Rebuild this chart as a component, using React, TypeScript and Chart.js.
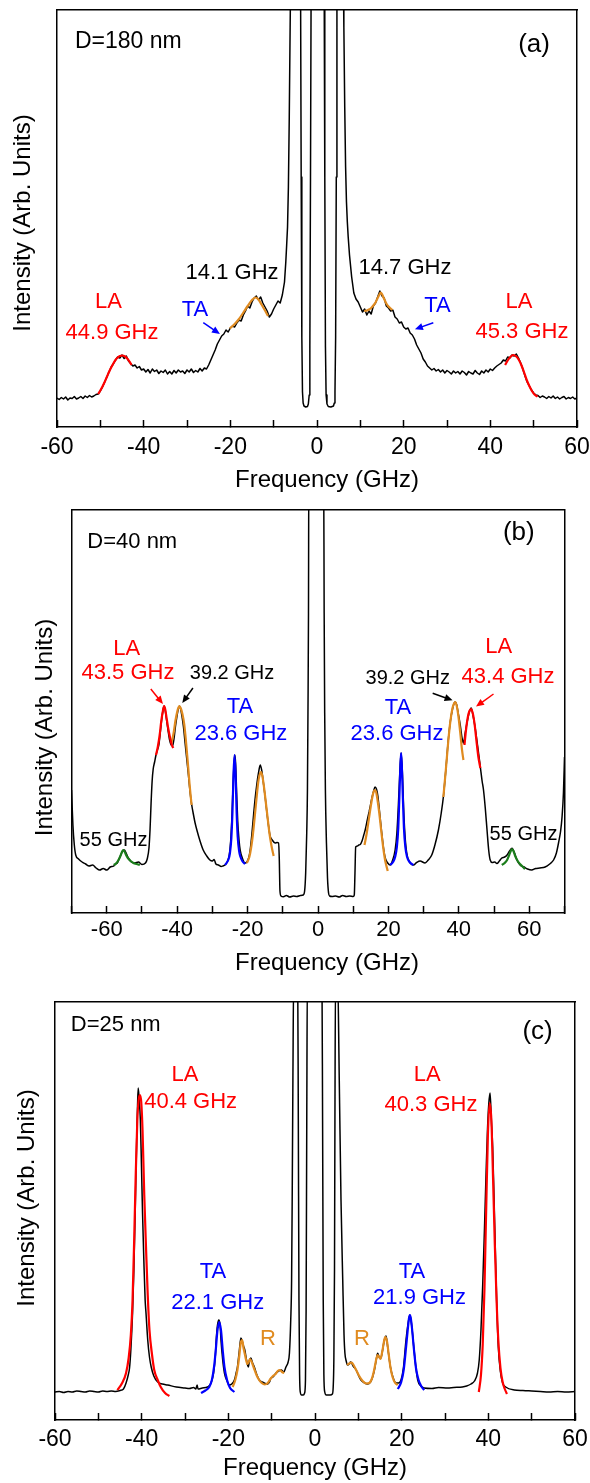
import React, { useEffect, useRef } from 'react';
import { Chart, registerables } from 'chart.js';

Chart.register(...registerables);

const FONT = '"Liberation Sans", Arial, Helvetica, sans-serif';
const BLACK = '#000000';
const RED = '#ff0000';
const BLUE = '#0000ff';
const ORANGE = '#e08b20';
const GREEN = '#1b7d1b';

type Pt = [number, number];

// ---------------- Panel (a): D = 180 nm ----------------
const ticksA = [-60, -40, -20, 0, 20, 40, 60];
const spectrumA: Pt[] = [
  [-60, 29], [-59.5, 27.5], [-59, 29.5], [-58.5, 28], [-58, 30], [-57.5, 27], [-57, 29], [-56.5, 28.5], [-56, 30.5], [-55.5, 28],
  [-55, 29], [-54.5, 30.5], [-54, 28.5], [-53.5, 31], [-53, 29.5], [-52.5, 31.5], [-52, 30], [-51.5, 31], [-51, 32.5], [-50.5, 33],
  [-50, 36], [-49.5, 40], [-49, 45], [-48.5, 50], [-48, 55], [-47.5, 60], [-47, 63], [-46.5, 67], [-46, 70], [-45.5, 69],
  [-45, 72], [-44.5, 68.5], [-44, 71], [-43.5, 66], [-43, 63.5], [-42.5, 61], [-42, 62], [-41.5, 59], [-41, 60.5], [-40.5, 57],
  [-40, 58], [-39.5, 55], [-39, 57.5], [-38.5, 54], [-38, 58], [-37.5, 55.5], [-37, 57], [-36.5, 53.5], [-36, 56], [-35.5, 54.5],
  [-35, 57], [-34.5, 53], [-34, 55.5], [-33.5, 53], [-33, 56.5], [-32.5, 54], [-32, 57], [-31.5, 55], [-31, 56], [-30.5, 53.5],
  [-30, 57], [-29.5, 55], [-29, 58], [-28.5, 54.5], [-28, 56.5], [-27.5, 55], [-27, 58.5], [-26.5, 56], [-26, 59], [-25.5, 58],
  [-25, 62], [-24.5, 67], [-24, 72], [-23.5, 77], [-23, 83], [-22.5, 87], [-22, 91], [-21.5, 93], [-21, 97], [-20.5, 95],
  [-20, 99], [-19.5, 101], [-19, 100], [-18.5, 104], [-18, 107], [-17.5, 106], [-17, 112], [-16.5, 116], [-16, 121], [-15.5, 119],
  [-15, 125], [-14.5, 129], [-14, 131], [-13.5, 127], [-13, 130], [-12.5, 124], [-12, 120], [-11.5, 116], [-11, 110], [-10.5, 113],
  [-10, 118], [-9.5, 122], [-9, 126], [-8.5, 124], [-8, 132], [-7.5, 145], [-7.2, 165], [-7, 182], [-6.8, 200], [-6.6, 240],
  [-6.4, 310], [-6.2, 400], [-6, 480], [-5.5, 560], [-4, 560], [-3.8, 450], [-3.65, 250], [-3.5, 90], [-3.35, 35], [-3.2, 24],
  [-3, 21], [-2.6, 20], [-2.2, 20.5], [-2, 23], [-1.8, 32], [-1.65, 80], [-1.5, 250], [-1.35, 450], [-1.2, 560], [1.5, 560],
  [1.65, 450], [1.8, 250], [1.95, 80], [2.1, 32], [2.3, 23], [2.6, 20.5], [3.2, 20], [3.8, 21], [4, 24], [4.15, 35],
  [4.3, 90], [4.45, 250], [4.6, 450], [4.8, 560], [5.8, 560], [6, 480], [6.2, 400], [6.4, 320], [6.6, 260], [6.8, 225],
  [7, 205], [7.2, 190], [7.5, 172], [8, 150], [8.5, 134], [9, 128], [9.5, 125], [10, 120], [10.5, 115], [11, 118],
  [11.5, 112], [12, 116], [12.5, 113], [13, 121], [13.5, 124], [14, 130], [14.5, 136], [15, 131], [15.5, 129], [16, 121],
  [16.5, 119], [17, 116], [17.5, 117], [18, 110], [18.5, 108], [19, 104], [19.5, 105], [20, 100], [20.5, 98], [21, 99],
  [21.5, 94], [22, 92], [22.5, 88], [23, 82], [23.5, 78], [24, 74], [24.5, 68], [25, 65], [25.5, 61], [26, 59],
  [26.5, 57], [27, 58.5], [27.5, 56], [28, 57.5], [28.5, 55], [29, 57], [29.5, 54], [30, 56.5], [30.5, 55], [31, 53],
  [31.5, 56], [32, 54], [32.5, 55.5], [33, 53], [33.5, 56], [34, 54.5], [34.5, 52], [35, 55.5], [35.5, 54], [36, 53],
  [36.5, 56.5], [37, 54], [37.5, 52.5], [38, 56], [38.5, 54], [39, 57], [39.5, 55], [40, 58], [40.5, 56.5], [41, 59],
  [41.5, 61], [42, 62.5], [42.5, 64], [43, 67], [43.5, 66], [44, 70], [44.5, 69], [45, 72], [45.5, 71], [46, 73],
  [46.5, 69], [47, 64], [47.5, 58], [48, 51], [48.5, 45], [49, 41], [49.5, 37], [50, 34], [50.5, 32], [51, 31.5],
  [51.5, 29.5], [52, 31], [52.5, 30], [53, 28.5], [53.5, 30.5], [54, 29], [54.5, 31], [55, 28.5], [55.5, 30], [56, 28],
  [56.5, 29.5], [57, 30.5], [57.5, 28], [58, 29.5], [58.5, 28.5], [59, 30], [59.5, 28], [60, 29],
];
const laLeftA: Pt[] = [[-50.5, 33], [-50, 36.5], [-49.5, 40.5], [-49, 45], [-48.5, 50], [-48, 55], [-47.5, 59.5], [-47, 63.5], [-46.5, 67], [-46, 69.5], [-45.5, 71], [-44.9, 71.5], [-44.3, 70.5], [-43.7, 68], [-43.2, 65], [-42.8, 62]];
const taLeftA: Pt[] = [[-20.1, 98.5], [-19, 103], [-18, 108], [-17, 114.5], [-16, 121], [-15, 127], [-14.2, 129.5], [-13.5, 127.5], [-12.8, 122.5], [-12, 116.5], [-11.3, 111]];
const taRightA: Pt[] = [[10.9, 116], [11.5, 116.5], [12, 117.5], [12.5, 119], [13, 121.5], [13.5, 124.5], [14, 129], [14.4, 132.5], [14.7, 134.5], [15, 133], [15.5, 128], [16, 123.5], [16.5, 120.5], [17, 118.5], [17.4, 117]];
const laRightA: Pt[] = [[43.4, 62], [44, 66.5], [44.6, 70], [45.3, 72], [46, 70.5], [46.6, 67], [47.2, 61.5], [47.8, 54.5], [48.4, 47], [49, 41], [49.6, 36], [50.2, 32.5], [50.9, 30.3]];

// ---------------- Panel (b): D = 40 nm ----------------
const ticksB = [-60, -40, -20, 0, 20, 40, 60];
const spectrumB: Pt[] = [
  [-70, 123], [-69.6, 88], [-69.2, 68], [-68.8, 58], [-68, 54], [-67, 51], [-66, 49], [-65, 47], [-64, 48], [-63, 45],
  [-62, 43], [-61, 44.5], [-60, 43], [-59, 46], [-58, 47], [-57.5, 49], [-57, 50], [-56.5, 54], [-56, 58], [-55.5, 62],
  [-55, 63], [-54.5, 60], [-54, 56], [-53.5, 53], [-53, 51], [-52, 50], [-51, 51], [-50, 48.5], [-49, 50], [-48.5, 54],
  [-48, 65], [-47.7, 83], [-47.4, 110], [-47.1, 132], [-46.8, 144], [-46.4, 151], [-46, 158], [-45.6, 163], [-45.2, 168], [-44.8, 180],
  [-44.4, 193], [-44, 203], [-43.7, 207], [-43.4, 203], [-43, 193], [-42.6, 183], [-42.2, 174], [-41.7, 168], [-41.3, 167], [-40.9, 174],
  [-40.5, 186], [-40, 198], [-39.6, 205], [-39.3, 207], [-39, 204], [-38.6, 196], [-38.2, 186], [-37.8, 172], [-37.3, 155], [-36.8, 138],
  [-36.3, 120], [-35.9, 109], [-35.4, 99], [-34.9, 90], [-34.4, 83], [-33.5, 72], [-32.6, 63], [-31.6, 57], [-30.7, 53], [-30, 52],
  [-29.5, 53.5], [-29, 49], [-28.3, 48], [-27.5, 46.5], [-27, 47], [-26.4, 48], [-25.8, 51], [-25.2, 58], [-24.8, 72], [-24.4, 100],
  [-24.1, 130], [-23.8, 152], [-23.6, 158], [-23.4, 150], [-23.1, 120], [-22.8, 92], [-22.4, 72], [-22.1, 63], [-21.4, 54], [-20.7, 50],
  [-20.2, 51], [-19.7, 55], [-19.3, 62], [-18.8, 78], [-18.3, 98], [-17.9, 113], [-17.4, 128], [-16.9, 140], [-16.4, 148], [-16, 143],
  [-15.5, 130], [-15, 116], [-14.5, 100], [-14, 86], [-13.6, 77], [-13, 73], [-12.2, 70], [-11.6, 70.5], [-11.2, 70], [-11, 55],
  [-10.8, 22], [-10.5, 17], [-9.8, 16.3], [-9, 17.5], [-8, 16], [-7, 17], [-6, 16.5], [-5, 17.5], [-4.2, 18], [-3.8, 22],
  [-3.5, 40], [-3.2, 80], [-3, 123], [-2.85, 200], [-2.7, 300], [-2.6, 450], [1.6, 450], [1.75, 300], [1.9, 200], [2.1, 123],
  [2.4, 70], [2.7, 35], [3, 20], [3.3, 17], [4, 16.5], [5, 17], [6, 16], [7, 17.5], [8, 16.5], [9, 17],
  [10, 16.5], [10.3, 18], [10.5, 40], [10.7, 66], [11.2, 67], [11.6, 68], [12, 68.5], [12.5, 72], [13, 78], [13.4, 83],
  [14, 93], [14.5, 101], [14.8, 106], [15.3, 115], [15.8, 122], [16.2, 126], [16.6, 124], [17, 117], [17.4, 104], [17.8, 90],
  [18.1, 80], [18.6, 65], [19.1, 55], [19.8, 50], [20.5, 48], [21.2, 53], [21.9, 63], [22.4, 80], [22.8, 106], [23.2, 138],
  [23.6, 160], [24, 138], [24.3, 106], [24.7, 78], [25.2, 60], [26, 51], [27.1, 48], [28, 50.5], [29, 52], [30.4, 50],
  [31.3, 53], [32.3, 58], [33.2, 68], [34.2, 83], [35, 100], [35.6, 116], [36.3, 143], [37, 173], [37.6, 192], [38.2, 204],
  [38.7, 210], [39, 211], [39.4, 208], [39.8, 200], [40.4, 188], [40.9, 175], [41.3, 170], [41.8, 180], [42.3, 190], [42.9, 200],
  [43.5, 205], [44, 198], [44.6, 186], [45.3, 168], [46.1, 146], [46.6, 132], [47, 123], [47.5, 105], [48, 83], [48.5, 62],
  [48.9, 53], [49.5, 50.5], [50.2, 51], [50.8, 49.5], [51.5, 52], [52.2, 55], [53, 56], [53.7, 58], [54.4, 62], [55.1, 64.7],
  [55.8, 60], [56.5, 53], [57.4, 48], [58.5, 46], [59.5, 44], [60.7, 43], [61.8, 44.5], [63, 45], [64.5, 46], [65.8, 49],
  [66.9, 53], [67.7, 60], [68.3, 70], [68.9, 82], [69.3, 96], [69.7, 120], [70, 156],
];
const p55LeftB: Pt[] = [[-58, 48], [-57.2, 50], [-56.5, 54], [-56, 58], [-55.6, 61.5], [-55.3, 63], [-55, 62], [-54.5, 58], [-54, 55], [-53.2, 52], [-52.4, 50], [-51.5, 49], [-50.6, 48]];
const laLeftB: Pt[] = [[-46, 158], [-45.5, 166], [-45, 177], [-44.5, 192], [-44, 203], [-43.7, 207], [-43.4, 204], [-43, 195], [-42.5, 184], [-42, 175], [-41.5, 168], [-41.1, 165]];
const p39LeftB: Pt[] = [[-41.6, 170], [-41, 180], [-40.5, 192], [-40, 201], [-39.7, 205], [-39.4, 207], [-39, 205], [-38.5, 199], [-38, 189], [-37.5, 172], [-37, 152], [-36.5, 130], [-35.9, 108]];
const taLeftB: Pt[] = [[-26.4, 48], [-25.5, 53], [-25, 60], [-24.6, 75], [-24.3, 100], [-24, 138], [-23.7, 158], [-23.4, 138], [-23.1, 100], [-22.8, 76], [-22.4, 62], [-22, 56], [-21.5, 52], [-20.7, 49]];
const p16LeftB: Pt[] = [[-20.2, 50], [-19.5, 56], [-19, 65], [-18.5, 78], [-18, 95], [-17.5, 113], [-17, 130], [-16.6, 138], [-16.2, 141], [-15.8, 137], [-15.3, 125], [-14.8, 110], [-14.3, 95], [-13.8, 80], [-13.2, 67], [-12.6, 57]];
const p16RightB: Pt[] = [[13.2, 68], [13.8, 79], [14.4, 93], [15, 107], [15.5, 117], [15.9, 122], [16.2, 123], [16.5, 121], [16.9, 113], [17.4, 100], [17.9, 84], [18.5, 66], [19.1, 52], [19.8, 42]];
const taRightB: Pt[] = [[20.5, 48], [21.3, 51], [21.9, 56], [22.4, 66], [22.8, 85], [23.1, 115], [23.4, 148], [23.6, 160], [23.8, 148], [24.1, 115], [24.4, 85], [24.8, 66], [25.3, 56], [26, 51], [27.1, 48]];
const p39RightB: Pt[] = [[35.6, 116], [36.3, 143], [37, 172], [37.6, 192], [38.2, 205], [38.7, 210], [39, 211], [39.4, 207], [39.9, 196], [40.4, 180], [40.9, 163], [41.3, 153]];
const laRightB: Pt[] = [[41.6, 168], [42, 182], [42.5, 195], [43, 202], [43.5, 204], [44, 199], [44.5, 188], [45, 172], [45.5, 157], [46.1, 145]];
const p55RightB: Pt[] = [[52.2, 48], [53, 50], [53.7, 53], [54.3, 58], [54.8, 62.5], [55.1, 64], [55.5, 62], [56, 57], [56.7, 52], [57.5, 48.5], [58.2, 46], [58.8, 44]];

// ---------------- Panel (c): D = 25 nm ----------------
const ticksC = [-60, -40, -20, 0, 20, 40, 60];
const spectrumC: Pt[] = [
  [-60, 28], [-59, 28.5], [-58, 27.5], [-57, 28.5], [-56, 28], [-55, 29], [-54, 28.5], [-53, 28], [-52, 29], [-51, 28.5],
  [-50, 28], [-49, 29], [-48, 28.5], [-47, 29], [-46, 28.5], [-45, 29.5], [-44.2, 31], [-43.6, 37], [-43.1, 45], [-42.8, 52],
  [-42.5, 70], [-42.1, 107], [-41.8, 150], [-41.5, 207], [-41.3, 250], [-41.1, 290], [-40.95, 315], [-40.8, 332], [-40.6, 322], [-40.3, 300],
  [-40.05, 255], [-39.8, 207], [-39.5, 160], [-39.2, 120], [-39, 107], [-38.6, 80], [-38.2, 63], [-37.8, 53], [-37.2, 44], [-36.3, 38],
  [-35.2, 36], [-34, 35], [-32, 33], [-30, 32], [-29, 31.5], [-28, 32.5], [-27.5, 31], [-27.2, 35], [-27, 31], [-26, 32],
  [-24.8, 33], [-24, 37], [-23.4, 47], [-23, 64], [-22.8, 80], [-22.5, 95], [-22.2, 100], [-21.9, 95], [-21.7, 80], [-21.3, 60],
  [-20.9, 47], [-20.3, 39], [-19.8, 35], [-19.2, 36], [-18.6, 40], [-18.2, 47], [-17.9, 53], [-17.5, 68], [-17.1, 82], [-16.8, 79],
  [-16.5, 74], [-16.2, 70], [-15.8, 60], [-15.4, 53], [-15.1, 60], [-14.8, 62], [-14.4, 57], [-14, 53], [-13.4, 45], [-12.85, 40],
  [-12.2, 38], [-11.5, 36.5], [-10.9, 36], [-10.5, 38], [-10.2, 41.7], [-9.7, 43], [-9, 47], [-8.4, 49], [-7.8, 50], [-7.2, 48],
  [-6.7, 53], [-6.2, 58], [-5.9, 67], [-5.6, 100], [-5.4, 140], [-5.25, 230], [-5.1, 340], [-4.9, 450], [-4, 450], [-3.85, 300],
  [-3.7, 120], [-3.55, 45], [-3.4, 28], [-3.1, 25], [-2.7, 25], [-2.4, 27], [-2.2, 40], [-2.05, 110], [-1.9, 300], [-1.75, 450],
  [1.6, 450], [1.75, 300], [1.9, 120], [2.05, 45], [2.25, 28], [2.6, 25], [3.5, 25], [4, 26], [4.2, 33], [4.35, 60],
  [4.5, 150], [4.6, 300], [4.75, 450], [5.2, 450], [5.6, 340], [6, 220], [6.4, 140], [6.7, 85], [6.9, 67], [7.2, 59],
  [7.5, 55], [7.9, 56], [8.2, 58], [8.45, 57], [8.8, 54], [9.5, 50], [10, 45], [10.6, 40], [11.3, 37.5], [12.15, 36],
  [12.8, 38], [13.3, 43], [13.8, 52], [14.2, 62], [14.45, 66.7], [14.8, 63], [15.2, 62], [15.6, 70], [16, 80], [16.4, 84],
  [16.8, 72], [17.1, 62], [17.4, 53], [17.9, 44], [18.7, 37], [19.3, 37], [19.85, 40], [20.4, 52], [21, 80], [21.5, 97],
  [21.9, 105], [22.3, 95], [22.8, 73], [23.3, 52], [23.7, 40], [24.4, 34], [25.2, 32], [27, 31.5], [28.5, 32.5], [30.6, 32],
  [32, 32.5], [34, 33], [35, 34], [36, 36], [36.8, 39], [37.5, 47], [37.9, 60], [38.3, 90], [38.7, 135], [39.1, 190],
  [39.5, 250], [39.8, 290], [40.1, 316], [40.4, 327], [40.7, 300], [41, 273], [41.3, 225], [41.6, 173], [41.95, 115], [42.3, 73],
  [42.8, 48], [43.3, 37], [44, 33], [46, 30], [48, 29.5], [50, 29], [52, 28.5], [54, 28], [56, 28.5], [58, 28], [60, 28.5],
];
const laLeftC: Pt[] = [[-45.6, 30], [-44.5, 37], [-43.6, 47], [-43, 62], [-42.5, 85], [-42.1, 120], [-41.7, 185], [-41.4, 240], [-41, 300], [-40.7, 320], [-40.4, 325], [-40.1, 318], [-39.8, 290], [-39.4, 225], [-39, 173], [-38.6, 125], [-38.2, 90], [-37.6, 65], [-37.1, 50], [-36.3, 40], [-35.6, 33], [-34.6, 27], [-33.6, 24]];
const taLeftC: Pt[] = [[-26.3, 27], [-25.3, 29.5], [-24.4, 33], [-23.8, 40], [-23.3, 53], [-22.9, 70], [-22.5, 90], [-22.1, 98], [-21.7, 90], [-21.3, 70], [-20.9, 53], [-20.3, 40], [-19.6, 32], [-18.6, 28]];
const rLeftC: Pt[] = [[-19, 33], [-18.4, 40], [-17.9, 50], [-17.5, 63], [-17.1, 78], [-16.8, 80], [-16.5, 72], [-16.2, 66], [-15.9, 60], [-15.6, 56], [-15.3, 58], [-15, 61], [-14.6, 58], [-14.1, 52], [-13.5, 45], [-12.9, 40], [-12.3, 37], [-11.6, 35.5], [-10.9, 37], [-10.3, 41], [-9.7, 44], [-9.1, 46], [-8.6, 49], [-8.1, 50], [-7.6, 48], [-7.1, 47]];
const rRightC: Pt[] = [[7.4, 55], [7.9, 56.5], [8.45, 57.5], [8.9, 55], [9.5, 50], [10.2, 44], [11, 39], [11.8, 36.5], [12.5, 37], [13.1, 41], [13.6, 49], [14.1, 60], [14.45, 65], [14.8, 63], [15.1, 61], [15.5, 68], [15.9, 78], [16.2, 83], [16.6, 79], [17, 66], [17.4, 53], [17.9, 43], [18.5, 37], [19.1, 35]];
const taRightC: Pt[] = [[19.1, 31], [19.9, 38], [20.5, 51], [21, 72], [21.4, 90], [21.7, 102], [21.9, 105], [22.1, 102], [22.4, 91], [22.8, 72], [23.3, 52], [23.9, 40], [24.5, 34], [25.2, 30]];
const laRightC: Pt[] = [[37.8, 28], [38.3, 45], [38.7, 75], [39.1, 130], [39.5, 210], [39.9, 285], [40.3, 317], [40.7, 300], [41.1, 240], [41.5, 175], [41.9, 120], [42.3, 80], [42.8, 52], [43.3, 38], [43.8, 31], [44.3, 26]];

// ---------------- annotation and layout specs ----------------
type Label = { text: string; x: number; y: number; color: string; size: number; align?: CanvasTextAlign };
type Arrow = { x1: number; y1: number; x2: number; y2: number; color: string };
type Series = { data: Pt[]; color: string; width: number; smooth: boolean; order: number };
type PanelSpec = {
  key: string; top: number; height: number; xMin: number; xMax: number; yMax: number;
  tickLabels: number[]; tickFont: number; tickPad: number;
  padding: { top: number; left: number; right: number; bottom: number };
  xTitle: { x: number; y: number }; yTitle: { x: number; y: number };
  series: Series[]; labels: Label[]; arrows: Arrow[];
};

const fit = (data: Pt[], color: string): Series => ({ data, color, width: 2.2, smooth: true, order: 0 });

const panels: PanelSpec[] = [
  {
    key: 'a', top: 0, height: 500, xMin: -60, xMax: 60, yMax: 417,
    tickLabels: ticksA, tickFont: 23, tickPad: 14.2,
    padding: { top: 10, left: 57, right: 53, bottom: 24 },
    xTitle: { x: 327, y: 480 }, yTitle: { x: 23, y: 223 },
    series: [
      fit(laLeftA, RED), fit(taLeftA, ORANGE), fit(taRightA, ORANGE), fit(laRightA, RED),
      { data: spectrumA, color: BLACK, width: 1.5, smooth: false, order: 5 },
    ],
    labels: [
      { text: 'D=180 nm', x: -55.85, y: 385, color: BLACK, size: 23, align: 'left' },
      { text: '(a)', x: 50.1, y: 382, color: BLACK, size: 26 },
      { text: '14.1 GHz', x: -19.6, y: 154, color: BLACK, size: 22 },
      { text: '14.7 GHz', x: 20.3, y: 159, color: BLACK, size: 22 },
      { text: 'TA', x: -28.15, y: 117, color: BLUE, size: 22 },
      { text: 'TA', x: 27.8, y: 121, color: BLUE, size: 22 },
      { text: 'LA', x: -48.1, y: 125.3, color: RED, size: 22 },
      { text: '44.9 GHz', x: -47.3, y: 94.3, color: RED, size: 22 },
      { text: 'LA', x: 46.6, y: 125.3, color: RED, size: 22 },
      { text: '45.3 GHz', x: 47.3, y: 95.3, color: RED, size: 22 },
    ],
    arrows: [
      { x1: -26.24, y1: 104.3, x2: -22.4, y2: 93, color: BLUE },
      { x1: 26.84, y1: 104.3, x2: 22.6, y2: 97.7, color: BLUE },
    ],
  },
  {
    key: 'b', top: 500, height: 490, xMin: -70, xMax: 70, yMax: 403,
    tickLabels: ticksB, tickFont: 22, tickPad: 10.8,
    padding: { top: 10, left: 71.5, right: 65.5, bottom: 36 },
    xTitle: { x: 327, y: 463 }, yTitle: { x: 45, y: 227.5 },
    series: [
      fit(p55LeftB, GREEN), fit(laLeftB, RED), fit(p39LeftB, ORANGE), fit(taLeftB, BLUE), fit(p16LeftB, ORANGE),
      fit(p16RightB, ORANGE), fit(taRightB, BLUE), fit(p39RightB, ORANGE), fit(laRightB, RED), fit(p55RightB, GREEN),
      { data: spectrumB, color: BLACK, width: 1.5, smooth: true, order: 5 },
    ],
    labels: [
      { text: 'D=40 nm', x: -65.51, y: 371.3, color: BLACK, size: 22, align: 'left' },
      { text: '(b)', x: 57.02, y: 379.7, color: BLACK, size: 26 },
      { text: 'LA', x: -54.3, y: 263.7, color: RED, size: 22 },
      { text: '43.5 GHz', x: -53.96, y: 239.7, color: RED, size: 22 },
      { text: '39.2 GHz', x: -24.42, y: 239.7, color: BLACK, size: 20 },
      { text: 'TA', x: -22.15, y: 206.3, color: BLUE, size: 22 },
      { text: '23.6 GHz', x: -21.9, y: 179, color: BLUE, size: 22 },
      { text: 'TA', x: 22.72, y: 204.7, color: BLUE, size: 22 },
      { text: '23.6 GHz', x: 22.44, y: 179, color: BLUE, size: 22 },
      { text: '39.2 GHz', x: 25.5, y: 234.7, color: BLACK, size: 20 },
      { text: 'LA', x: 51.3, y: 266.3, color: RED, size: 22 },
      { text: '43.4 GHz', x: 53.96, y: 236.3, color: RED, size: 22 },
      { text: '55 GHz', x: -58.07, y: 73, color: BLACK, size: 20 },
      { text: '55 GHz', x: 58.36, y: 79, color: BLACK, size: 20 },
    ],
    arrows: [
      { x1: -47.48, y1: 224, x2: -44.02, y2: 209, color: RED },
      { x1: -35.52, y1: 225, x2: -38.54, y2: 210, color: BLACK },
      { x1: 32.57, y1: 219.7, x2: 38.22, y2: 212.7, color: BLACK },
      { x1: 49.84, y1: 219, x2: 44.87, y2: 206.4, color: RED },
    ],
  },
  {
    key: 'c', top: 990, height: 493, xMin: -60, xMax: 60, yMax: 418,
    tickLabels: ticksC, tickFont: 23, tickPad: 13.2,
    padding: { top: 12, left: 55, right: 55, bottom: 16 },
    xTitle: { x: 315, y: 478 }, yTitle: { x: 27, y: 208 },
    series: [
      fit(laLeftC, RED), fit(taLeftC, BLUE), fit(rLeftC, ORANGE), fit(rRightC, ORANGE), fit(taRightC, BLUE), fit(laRightC, RED),
      { data: spectrumC, color: BLACK, width: 1.5, smooth: true, order: 5 },
    ],
    labels: [
      { text: 'D=25 nm', x: -56.35, y: 395, color: BLACK, size: 22, align: 'left' },
      { text: '(c)', x: 51.37, y: 388.3, color: BLACK, size: 26 },
      { text: 'LA', x: -30, y: 345, color: RED, size: 22 },
      { text: '40.4 GHz', x: -28.7, y: 318.3, color: RED, size: 22 },
      { text: 'LA', x: 25.9, y: 345, color: RED, size: 22 },
      { text: '40.3 GHz', x: 26.77, y: 315, color: RED, size: 22 },
      { text: 'TA', x: -23.54, y: 148.3, color: BLUE, size: 22 },
      { text: '22.1 GHz', x: -22.45, y: 117.3, color: BLUE, size: 22 },
      { text: 'TA', x: 22.38, y: 148.3, color: BLUE, size: 22 },
      { text: '21.9 GHz', x: 24.12, y: 121.7, color: BLUE, size: 22 },
      { text: 'R', x: -10.85, y: 80.7, color: ORANGE, size: 22 },
      { text: 'R', x: 10.85, y: 80.7, color: ORANGE, size: 22 },
    ],
    arrows: [],
  },
];

const CANVAS_W = 630;

function makeOverlay(spec: PanelSpec) {
  return {
    id: 'overlay_' + spec.key,
    afterDraw(chart: any) {
      const { ctx } = chart;
      const xs = chart.scales.x;
      const ys = chart.scales.y;
      ctx.save();
      ctx.textBaseline = 'middle';
      for (const l of spec.labels) {
        ctx.font = `${l.size}px ${FONT}`;
        ctx.fillStyle = l.color;
        ctx.textAlign = l.align || 'center';
        ctx.fillText(l.text, xs.getPixelForValue(l.x), ys.getPixelForValue(l.y));
      }
      for (const a of spec.arrows) {
        const x1 = xs.getPixelForValue(a.x1);
        const y1 = ys.getPixelForValue(a.y1);
        const x2 = xs.getPixelForValue(a.x2);
        const y2 = ys.getPixelForValue(a.y2);
        const ang = Math.atan2(y2 - y1, x2 - x1);
        const head = 8;
        const hw = 3.5;
        const c = Math.cos(ang);
        const s = Math.sin(ang);
        ctx.strokeStyle = a.color;
        ctx.fillStyle = a.color;
        ctx.lineWidth = 1.5;
        ctx.beginPath();
        ctx.moveTo(x1, y1);
        ctx.lineTo(x2 - head * 0.7 * c, y2 - head * 0.7 * s);
        ctx.stroke();
        ctx.beginPath();
        ctx.moveTo(x2, y2);
        ctx.lineTo(x2 - head * c + hw * s, y2 - head * s - hw * c);
        ctx.lineTo(x2 - head * c - hw * s, y2 - head * s + hw * c);
        ctx.closePath();
        ctx.fill();
      }
      ctx.fillStyle = BLACK;
      ctx.font = `24px ${FONT}`;
      ctx.textAlign = 'center';
      ctx.fillText('Frequency (GHz)', spec.xTitle.x, spec.xTitle.y);
      ctx.translate(spec.yTitle.x, spec.yTitle.y);
      ctx.rotate(-Math.PI / 2);
      ctx.fillText('Intensity (Arb. Units)', 0, 0);
      ctx.restore();
    },
  };
}

function Panel({ spec }: { spec: PanelSpec }) {
  const ref = useRef<HTMLCanvasElement | null>(null);
  useEffect(() => {
    const canvas = ref.current;
    if (!canvas) return;
    const borderOpts = { display: true, color: BLACK, width: 1.5 };
    const hiddenGrid = { display: false, drawTicks: false, tickLength: 0, drawOnChartArea: false };
    const chart = new Chart(canvas, {
      type: 'line',
      data: {
        datasets: spec.series.map((s) => ({
          data: s.data.map(([x, y]) => ({ x, y })),
          borderColor: s.color,
          backgroundColor: s.color,
          borderWidth: s.width,
          pointRadius: 0,
          fill: false,
          tension: 0,
          cubicInterpolationMode: s.smooth ? 'monotone' : 'default',
          borderJoinStyle: 'round',
          order: s.order,
        })),
      },
      options: {
        animation: false,
        responsive: false,
        maintainAspectRatio: false,
        events: [],
        layout: { padding: spec.padding, autoPadding: false },
        plugins: { legend: { display: false }, tooltip: { enabled: false }, title: { display: false } },
        scales: {
          x: {
            type: 'linear',
            position: 'bottom',
            min: spec.xMin,
            max: spec.xMax,
            ticks: {
              stepSize: 10,
              autoSkip: false,
              maxRotation: 0,
              minRotation: 0,
              padding: spec.tickPad,
              color: BLACK,
              font: { family: FONT, size: spec.tickFont },
              callback: (v: any) => (spec.tickLabels.includes(Number(v)) ? String(v) : ''),
            },
            grid: { display: true, drawOnChartArea: false, drawTicks: true, tickLength: -7, tickColor: BLACK, tickWidth: 1.5 },
            border: borderOpts,
          },
          y: {
            type: 'linear',
            position: 'left',
            min: 0,
            max: spec.yMax,
            ticks: { display: false },
            grid: hiddenGrid,
            border: borderOpts,
          },
          x2: {
            type: 'linear',
            position: 'top',
            ticks: { display: false },
            grid: hiddenGrid,
            border: borderOpts,
          },
          y2: {
            type: 'linear',
            position: 'right',
            ticks: { display: false },
            grid: hiddenGrid,
            border: borderOpts,
          },
        },
      } as any,
      plugins: [makeOverlay(spec)],
    });
    return () => chart.destroy();
  }, [spec]);
  return (
    <div style={{ position: 'absolute', left: 0, top: spec.top, width: 590, height: spec.height, overflow: 'hidden' }}>
      <canvas ref={ref} width={CANVAS_W} height={spec.height} style={{ display: 'block', width: CANVAS_W, height: spec.height }} />
    </div>
  );
}

export default function App() {
  return (
    <div style={{ position: 'absolute', left: 0, top: 0, width: 590, height: 1483, background: '#ffffff', overflow: 'hidden' }}>
      {panels.map((p) => (
        <Panel key={p.key} spec={p} />
      ))}
    </div>
  );
}
